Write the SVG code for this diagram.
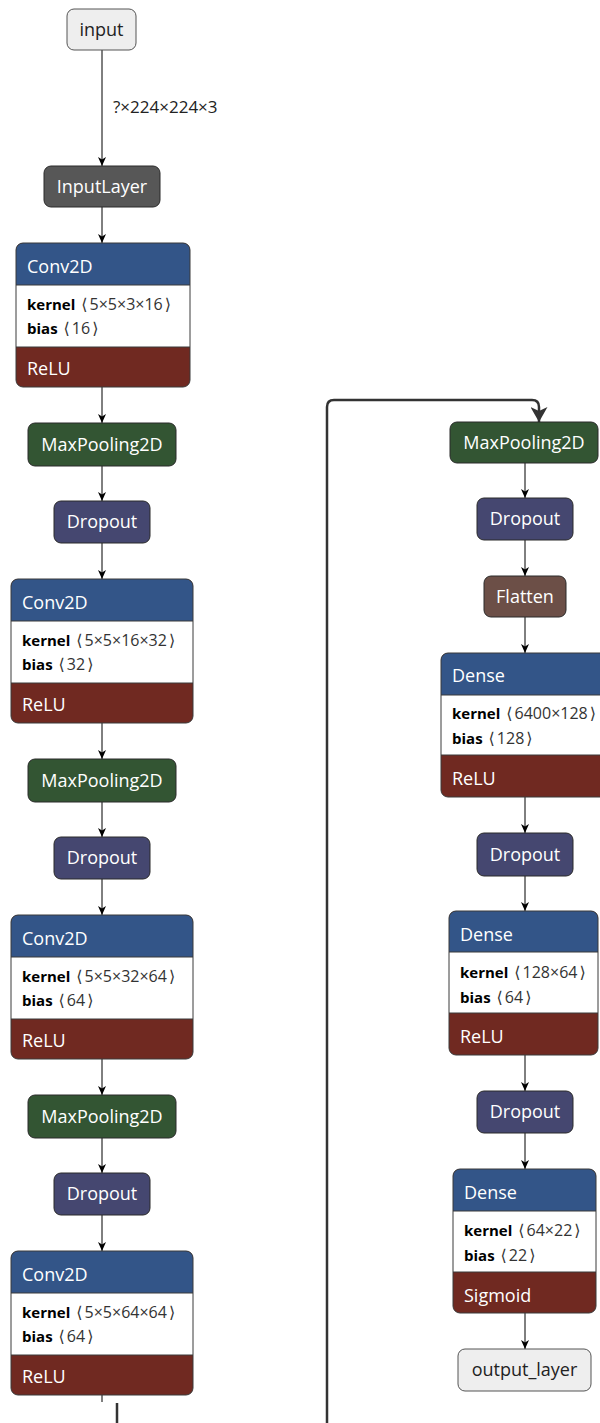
<svg xmlns="http://www.w3.org/2000/svg" width="600" height="1423" viewBox="0 0 600 1423">
  <style>
    .hd { font-family: "Open Sans", "Noto Sans", sans-serif; font-size: 18px; fill: #fff; }
    .lbl { font-family: "Open Sans", "Noto Sans", sans-serif; font-size: 18px; }
    .key { font-family: "Open Sans", "Noto Sans", sans-serif; font-size: 15px; font-weight: bold; fill: #000; }
    .val { font-family: "Open Sans", "Noto Sans", "DejaVu Sans", sans-serif; font-size: 16px; font-weight: normal; fill: #333; }
    .br { font-family: "DejaVu Sans", sans-serif; font-size: 16px; font-weight: normal; fill: #333; }
    .edge-label { font-family: "Open Sans", "Noto Sans", sans-serif; font-size: 17px; fill: #222; }
    .frame { fill: none; stroke: #3a3a3a; stroke-width: 1; }
    .div { stroke: #3a3a3a; stroke-width: 1; }
    .layer { fill: #335588; }
    .act { fill: #702921; }
    .pool { fill: #335533; stroke: #2a2a2a; stroke-width: 1; }
    .drop { fill: #454770; stroke: #2a2a2a; stroke-width: 1; }
    .shape { fill: #6c4f47; stroke: #2a2a2a; stroke-width: 1; }
    .data { fill: #575757; stroke: #2a2a2a; stroke-width: 1; }
    .io { fill: #eeeeee; stroke: #555; stroke-width: 1; }
    .e { fill: none; stroke: #000; stroke-width: 1; marker-end: url(#arr); }
  </style>
  <defs>
    <marker id="arr" viewBox="0 0 9 8" refX="9" refY="4" markerWidth="9" markerHeight="8" markerUnits="userSpaceOnUse" orient="auto">
      <path d="M0,0 L9,4 L0,8 L2.5,4 Z" fill="#000"/>
    </marker>
    <marker id="arrBig" viewBox="0 0 15 17" refX="15" refY="8.5" markerWidth="15" markerHeight="17" markerUnits="userSpaceOnUse" orient="auto">
      <path d="M0,0 L15,8.5 L0,17 L4,8.5 Z" fill="#333"/>
    </marker>
  </defs>

  <!-- connectors -->
  <g id="edges">
    <path class="e" d="M102,50 V166"/>
    <path class="e" d="M102,207 V243"/>
    <path class="e" d="M102,387 V423"/>
    <path class="e" d="M102,466 V501"/>
    <path class="e" d="M102,543 V579"/>
    <path class="e" d="M102,723 V759"/>
    <path class="e" d="M102,802 V837"/>
    <path class="e" d="M102,879 V915"/>
    <path class="e" d="M102,1059 V1095"/>
    <path class="e" d="M102,1138 V1173"/>
    <path class="e" d="M102,1215 V1251"/>
    <path d="M102,1395 V1402" fill="none" stroke="#000" stroke-width="1"/>
    <path d="M117,1403 V1440 H327 V407 Q327,400 334,400 H532 Q539,400 539,407 V422" fill="none" stroke="#333" stroke-width="2.5" marker-end="url(#arrBig)"/>
    <path class="e" d="M525,463 V498"/>
    <path class="e" d="M525,540 V576"/>
    <path class="e" d="M525,617 V653"/>
    <path class="e" d="M525,797 V833"/>
    <path class="e" d="M525,876 V911"/>
    <path class="e" d="M525,1055 V1091"/>
    <path class="e" d="M525,1133 V1169"/>
    <path class="e" d="M525,1313 V1349"/>
    <text class="edge-label" x="113" y="113">?×224×224×3</text>
  </g>

  <!-- left column -->
  <g id="node-input">
    <rect class="io" x="67" y="9" width="69" height="41" rx="7"/>
    <text class="lbl" x="101.5" y="36" text-anchor="middle" fill="#222">input</text>
  </g>
  <g id="node-inputlayer">
    <rect class="data" x="44" y="166" width="116" height="41" rx="7"/>
    <text class="hd" x="102" y="193" text-anchor="middle">InputLayer</text>
  </g>

  <g id="node-conv2d-1">
    <rect class="act" x="16" y="243" width="174" height="144" rx="7"/>
    <rect class="layer" x="16" y="243" width="174" height="50" rx="7"/>
    <rect x="16" y="285" width="174" height="62" fill="#fff"/>
    <line class="div" x1="16" y1="285" x2="190" y2="285"/>
    <line class="div" x1="16" y1="347" x2="190" y2="347"/>
    <rect class="frame" x="16" y="243" width="174" height="144" rx="7"/>
    <text class="hd" x="27" y="273">Conv2D</text>
    <text class="key" x="27" y="310">kernel<tspan class="br" dx="6">⟨</tspan><tspan class="val" dx="2">5×5×3×16</tspan><tspan class="br" dx="2">⟩</tspan></text>
    <text class="key" x="27" y="334">bias<tspan class="br" dx="6">⟨</tspan><tspan class="val" dx="2">16</tspan><tspan class="br" dx="2">⟩</tspan></text>
    <text class="hd" x="27" y="375">ReLU</text>
  </g>
  <g id="node-maxpool-1">
    <rect class="pool" x="28" y="423" width="148" height="43" rx="7"/>
    <text class="hd" x="102" y="451" text-anchor="middle">MaxPooling2D</text>
  </g>
  <g id="node-dropout-1">
    <rect class="drop" x="54" y="501" width="96" height="42" rx="7"/>
    <text class="hd" x="102" y="528" text-anchor="middle">Dropout</text>
  </g>

  <g id="node-conv2d-2">
    <rect class="act" x="11" y="579" width="182" height="144" rx="7"/>
    <rect class="layer" x="11" y="579" width="182" height="50" rx="7"/>
    <rect x="11" y="621" width="182" height="62" fill="#fff"/>
    <line class="div" x1="11" y1="621" x2="193" y2="621"/>
    <line class="div" x1="11" y1="683" x2="193" y2="683"/>
    <rect class="frame" x="11" y="579" width="182" height="144" rx="7"/>
    <text class="hd" x="22" y="609">Conv2D</text>
    <text class="key" x="22" y="646">kernel<tspan class="br" dx="6">⟨</tspan><tspan class="val" dx="2">5×5×16×32</tspan><tspan class="br" dx="2">⟩</tspan></text>
    <text class="key" x="22" y="670">bias<tspan class="br" dx="6">⟨</tspan><tspan class="val" dx="2">32</tspan><tspan class="br" dx="2">⟩</tspan></text>
    <text class="hd" x="22" y="711">ReLU</text>
  </g>
  <g id="node-maxpool-2">
    <rect class="pool" x="28" y="759" width="148" height="43" rx="7"/>
    <text class="hd" x="102" y="787" text-anchor="middle">MaxPooling2D</text>
  </g>
  <g id="node-dropout-2">
    <rect class="drop" x="54" y="837" width="96" height="42" rx="7"/>
    <text class="hd" x="102" y="864" text-anchor="middle">Dropout</text>
  </g>

  <g id="node-conv2d-3">
    <rect class="act" x="11" y="915" width="182" height="144" rx="7"/>
    <rect class="layer" x="11" y="915" width="182" height="50" rx="7"/>
    <rect x="11" y="957" width="182" height="62" fill="#fff"/>
    <line class="div" x1="11" y1="957" x2="193" y2="957"/>
    <line class="div" x1="11" y1="1019" x2="193" y2="1019"/>
    <rect class="frame" x="11" y="915" width="182" height="144" rx="7"/>
    <text class="hd" x="22" y="945">Conv2D</text>
    <text class="key" x="22" y="982">kernel<tspan class="br" dx="6">⟨</tspan><tspan class="val" dx="2">5×5×32×64</tspan><tspan class="br" dx="2">⟩</tspan></text>
    <text class="key" x="22" y="1006">bias<tspan class="br" dx="6">⟨</tspan><tspan class="val" dx="2">64</tspan><tspan class="br" dx="2">⟩</tspan></text>
    <text class="hd" x="22" y="1047">ReLU</text>
  </g>
  <g id="node-maxpool-3">
    <rect class="pool" x="28" y="1095" width="148" height="43" rx="7"/>
    <text class="hd" x="102" y="1123" text-anchor="middle">MaxPooling2D</text>
  </g>
  <g id="node-dropout-3">
    <rect class="drop" x="54" y="1173" width="96" height="42" rx="7"/>
    <text class="hd" x="102" y="1200" text-anchor="middle">Dropout</text>
  </g>

  <g id="node-conv2d-4">
    <rect class="act" x="11" y="1251" width="182" height="144" rx="7"/>
    <rect class="layer" x="11" y="1251" width="182" height="50" rx="7"/>
    <rect x="11" y="1293" width="182" height="62" fill="#fff"/>
    <line class="div" x1="11" y1="1293" x2="193" y2="1293"/>
    <line class="div" x1="11" y1="1355" x2="193" y2="1355"/>
    <rect class="frame" x="11" y="1251" width="182" height="144" rx="7"/>
    <text class="hd" x="22" y="1281">Conv2D</text>
    <text class="key" x="22" y="1318">kernel<tspan class="br" dx="6">⟨</tspan><tspan class="val" dx="2">5×5×64×64</tspan><tspan class="br" dx="2">⟩</tspan></text>
    <text class="key" x="22" y="1342">bias<tspan class="br" dx="6">⟨</tspan><tspan class="val" dx="2">64</tspan><tspan class="br" dx="2">⟩</tspan></text>
    <text class="hd" x="22" y="1383">ReLU</text>
  </g>

  <!-- right column -->
  <g id="node-maxpool-4">
    <rect class="pool" x="450" y="422" width="148" height="41" rx="7"/>
    <text class="hd" x="524" y="449" text-anchor="middle">MaxPooling2D</text>
  </g>
  <g id="node-dropout-4">
    <rect class="drop" x="477" y="498" width="96" height="42" rx="7"/>
    <text class="hd" x="525" y="525" text-anchor="middle">Dropout</text>
  </g>
  <g id="node-flatten">
    <rect class="shape" x="484" y="576" width="82" height="41" rx="7"/>
    <text class="hd" x="525" y="603" text-anchor="middle">Flatten</text>
  </g>

  <g id="node-dense-1">
    <rect class="act" x="441" y="653" width="166" height="144" rx="7"/>
    <rect class="layer" x="441" y="653" width="166" height="50" rx="7"/>
    <rect x="441" y="695" width="166" height="60" fill="#fff"/>
    <line class="div" x1="441" y1="695" x2="607" y2="695"/>
    <line class="div" x1="441" y1="755" x2="607" y2="755"/>
    <rect class="frame" x="441" y="653" width="166" height="144" rx="7"/>
    <text class="hd" x="452" y="682">Dense</text>
    <text class="key" x="452" y="719">kernel<tspan class="br" dx="6">⟨</tspan><tspan class="val" dx="2">6400×128</tspan><tspan class="br" dx="2">⟩</tspan></text>
    <text class="key" x="452" y="744">bias<tspan class="br" dx="6">⟨</tspan><tspan class="val" dx="2">128</tspan><tspan class="br" dx="2">⟩</tspan></text>
    <text class="hd" x="452" y="785">ReLU</text>
  </g>
  <g id="node-dropout-5">
    <rect class="drop" x="477" y="833" width="96" height="43" rx="7"/>
    <text class="hd" x="525" y="861" text-anchor="middle">Dropout</text>
  </g>

  <g id="node-dense-2">
    <rect class="act" x="449" y="911" width="149" height="144" rx="7"/>
    <rect class="layer" x="449" y="911" width="149" height="50" rx="7"/>
    <rect x="449" y="952" width="149" height="61" fill="#fff"/>
    <line class="div" x1="449" y1="952" x2="598" y2="952"/>
    <line class="div" x1="449" y1="1013" x2="598" y2="1013"/>
    <rect class="frame" x="449" y="911" width="149" height="144" rx="7"/>
    <text class="hd" x="460" y="941">Dense</text>
    <text class="key" x="460" y="978">kernel<tspan class="br" dx="6">⟨</tspan><tspan class="val" dx="2">128×64</tspan><tspan class="br" dx="2">⟩</tspan></text>
    <text class="key" x="460" y="1003">bias<tspan class="br" dx="6">⟨</tspan><tspan class="val" dx="2">64</tspan><tspan class="br" dx="2">⟩</tspan></text>
    <text class="hd" x="460" y="1043">ReLU</text>
  </g>
  <g id="node-dropout-6">
    <rect class="drop" x="477" y="1091" width="96" height="42" rx="7"/>
    <text class="hd" x="525" y="1118" text-anchor="middle">Dropout</text>
  </g>

  <g id="node-dense-3">
    <rect class="act" x="453" y="1169" width="143" height="144" rx="7"/>
    <rect class="layer" x="453" y="1169" width="143" height="50" rx="7"/>
    <rect x="453" y="1211" width="143" height="61" fill="#fff"/>
    <line class="div" x1="453" y1="1211" x2="596" y2="1211"/>
    <line class="div" x1="453" y1="1272" x2="596" y2="1272"/>
    <rect class="frame" x="453" y="1169" width="143" height="144" rx="7"/>
    <text class="hd" x="464" y="1199">Dense</text>
    <text class="key" x="464" y="1236">kernel<tspan class="br" dx="6">⟨</tspan><tspan class="val" dx="2">64×22</tspan><tspan class="br" dx="2">⟩</tspan></text>
    <text class="key" x="464" y="1261">bias<tspan class="br" dx="6">⟨</tspan><tspan class="val" dx="2">22</tspan><tspan class="br" dx="2">⟩</tspan></text>
    <text class="hd" x="464" y="1302">Sigmoid</text>
  </g>
  <g id="node-output">
    <rect class="io" x="458" y="1349" width="133" height="42" rx="7"/>
    <text class="lbl" x="524.5" y="1376" text-anchor="middle" fill="#222">output_layer</text>
  </g>
</svg>
